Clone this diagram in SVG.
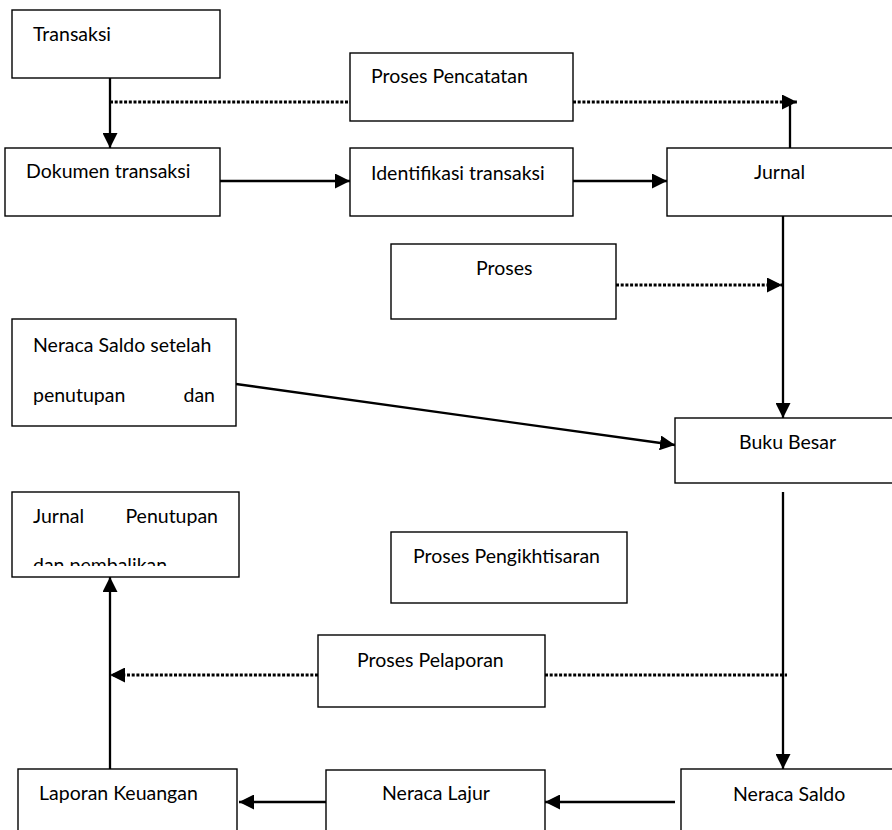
<svg xmlns="http://www.w3.org/2000/svg" width="892" height="830" viewBox="0 0 892 830">
<style>
.box{fill:#fff;stroke:#000;stroke-width:1.4}
.t{font-family:Lato,"Open Sans","Liberation Sans",sans-serif;font-size:19.5px;fill:#000}
.ln{fill:none;stroke:#000;stroke-width:2.3}
.dot{fill:none;stroke:#000;stroke-width:3.2;stroke-dasharray:3 1.7}
</style>
<defs>
<marker id="ah" markerUnits="userSpaceOnUse" markerWidth="15" markerHeight="15" refX="15" refY="7.5" orient="auto">
<path d="M0,0 L15,7.5 L0,15 Z" fill="#000"/>
</marker>
<clipPath id="clipJP"><rect x="12" y="492" width="227" height="74"/></clipPath>
</defs>
<rect width="892" height="830" fill="#fff"/>
<g id="connectors">
<line class="ln" x1="110" y1="78" x2="110" y2="148" marker-end="url(#ah)"/>
<line class="dot" x1="110" y1="102" x2="350" y2="102"/>
<line class="dot" x1="573" y1="102" x2="797" y2="102" marker-end="url(#ah)"/>
<line class="ln" x1="790" y1="148" x2="790" y2="102"/>
<line class="ln" x1="220" y1="181" x2="350" y2="181" marker-end="url(#ah)"/>
<line class="ln" x1="573" y1="181" x2="667" y2="181" marker-end="url(#ah)"/>
<line class="ln" x1="783" y1="216" x2="783" y2="418" marker-end="url(#ah)"/>
<line class="dot" x1="616" y1="285" x2="782" y2="285" marker-end="url(#ah)"/>
<line class="ln" x1="236" y1="384" x2="675" y2="445" marker-end="url(#ah)"/>
<line class="ln" x1="783" y1="492" x2="783" y2="769" marker-end="url(#ah)"/>
<line class="dot" x1="545" y1="675" x2="787" y2="675"/>
<line class="dot" x1="318" y1="675" x2="110" y2="675" marker-end="url(#ah)"/>
<line class="ln" x1="675" y1="802" x2="545" y2="802" marker-end="url(#ah)"/>
<line class="ln" x1="326" y1="802" x2="239" y2="802" marker-end="url(#ah)"/>
<line class="ln" x1="110" y1="769" x2="110" y2="577" marker-end="url(#ah)"/>
</g>
<g id="transaksi"><rect class="box" x="12" y="10" width="208" height="68"/><text class="t" x="33" y="41">Transaksi</text></g>
<g id="proses-pencatatan"><rect class="box" x="350" y="53" width="223" height="68"/><text class="t" x="371" y="83">Proses Pencatatan</text></g>
<g id="dokumen-transaksi"><rect class="box" x="5" y="148" width="215" height="68"/><text class="t" x="26" y="178">Dokumen transaksi</text></g>
<g id="identifikasi-transaksi"><rect class="box" x="350" y="148" width="223" height="68"/><text class="t" x="371" y="180">Identifikasi transaksi</text></g>
<g id="jurnal"><rect class="box" x="667" y="148" width="235" height="68"/><text class="t" x="754" y="179">Jurnal</text></g>
<g id="proses"><rect class="box" x="391" y="244" width="225" height="75"/><text class="t" x="476" y="275">Proses</text></g>
<g id="neraca-saldo-setelah"><rect class="box" x="12" y="319" width="224" height="107"/><text class="t" x="33" y="352">Neraca Saldo setelah</text><text class="t" y="402"><tspan x="33">penutupan</tspan> <tspan x="215" text-anchor="end">dan</tspan></text></g>
<g id="buku-besar"><rect class="box" x="675" y="418" width="230" height="65"/><text class="t" x="739" y="449">Buku Besar</text></g>
<g id="jurnal-penutupan"><rect class="box" x="12" y="492" width="227" height="85"/><text class="t" y="523"><tspan x="33">Jurnal</tspan> <tspan x="218" text-anchor="end">Penutupan</tspan></text><text class="t" x="33" y="572" clip-path="url(#clipJP)">dan pembalikan</text></g>
<g id="proses-pengikhtisaran"><rect class="box" x="391" y="532" width="236" height="71"/><text class="t" x="413" y="563">Proses Pengikhtisaran</text></g>
<g id="proses-pelaporan"><rect class="box" x="318" y="635" width="227" height="72"/><text class="t" x="357" y="667">Proses Pelaporan</text></g>
<g id="laporan-keuangan"><rect class="box" x="18" y="769" width="219" height="80"/><text class="t" x="39" y="800">Laporan Keuangan</text></g>
<g id="neraca-lajur"><rect class="box" x="326" y="770" width="219" height="80"/><text class="t" x="382" y="800">Neraca Lajur</text></g>
<g id="neraca-saldo"><rect class="box" x="681" y="769" width="220" height="80"/><text class="t" x="733" y="801">Neraca Saldo</text></g>
</svg>
